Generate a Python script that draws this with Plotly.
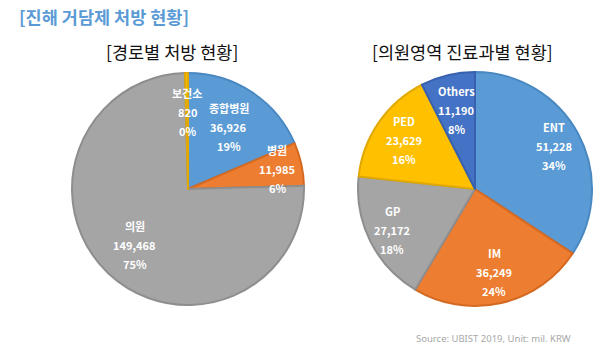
import math
import plotly.graph_objects as go

# ---- data ----
route_labels = ["종합병원", "병원", "의원", "보건소"]
route_values = [36926, 11985, 149468, 820]
route_pct = ["19%", "6%", "75%", "0%"]

dept_labels = ["ENT", "IM", "GP", "PED", "Others"]
dept_values = [51228, 36249, 27172, 23629, 11190]
dept_pct = ["34%", "24%", "18%", "16%", "8%"]

title_main = "[진해 거담제 처방 현황]"
title_left = "[경로별 처방 현황]"
title_right = "[의원영역 진료과별 현황]"
source_txt = "Source: UBIST 2019, Unit: mil. KRW"

# ---- style ----
W, H = 600, 354
BLUE, ORANGE, GRAY, YELLOW, DBLUE = "#5B9BD5", "#ED7D31", "#A5A5A5", "#FFC000", "#4472C4"
EDGE = {BLUE: "#4A88C2", ORANGE: "#D46A22", GRAY: "#8E8E8E", YELLOW: "#E0A800", DBLUE: "#3761AE"}
left_colors = [BLUE, ORANGE, GRAY, YELLOW]
right_colors = [BLUE, ORANGE, GRAY, YELLOW, DBLUE]
left_rfrac = [0.64, 0.79, 0.67, 0.66]
right_rfrac = [0.77, 0.73, 0.79, 0.74, 0.69]

left_center, left_R = (188, 189), 116
right_center, right_R = (475, 189), 117
LABEL_FONT = "Noto Sans CJK KR"


def domain(center, R):
    cx, cy = center
    return dict(x=[(cx - R) / W, (cx + R) / W], y=[1 - (cy + R) / H, 1 - (cy - R) / H])


fig = go.Figure()
for labels, values, colors, center, R in [
    (route_labels, route_values, left_colors, left_center, left_R),
    (dept_labels, dept_values, right_colors, right_center, right_R),
]:
    fig.add_trace(go.Pie(
        labels=labels, values=values, sort=False, direction="clockwise", rotation=0,
        marker=dict(colors=colors, line=dict(color=[EDGE[c] for c in colors], width=2)),
        textinfo="none", hoverinfo="label+value+percent",
        domain=domain(center, R), showlegend=False,
    ))

annotations = []


def add_labels(labels, values, pcts, rfrac, center, R):
    total = sum(values)
    cum = 0
    cx, cy = center
    for lab, v, p, rf in zip(labels, values, pcts, rfrac):
        mid = (cum + v / 2) / total * 2 * math.pi
        cum += v
        x = cx + rf * R * math.sin(mid)
        y = cy - rf * R * math.cos(mid)
        for i, t in enumerate([lab, f"{v:,}", p]):
            annotations.append(dict(
                x=x / W, y=1 - y / H, xref="paper", yref="paper",
                text=f"<b>{t}</b>", showarrow=False, yshift=19 * (1 - i),
                font=dict(family=LABEL_FONT, size=11, color="white"),
                xanchor="center", yanchor="middle",
            ))


add_labels(route_labels, route_values, route_pct, left_rfrac, left_center, left_R)
add_labels(dept_labels, dept_values, dept_pct, right_rfrac, right_center, right_R)

annotations += [
    dict(x=17 / W, y=1 - 16 / H, xref="paper", yref="paper", text=f"<b>{title_main}</b>",
         showarrow=False, xanchor="left", yanchor="middle",
         font=dict(family="Noto Sans CJK KR", size=17.5, color="#5B9BD5")),
    dict(x=172 / W, y=1 - 52 / H, xref="paper", yref="paper", text=title_left,
         showarrow=False, xanchor="center", yanchor="middle",
         font=dict(family="Noto Sans CJK KR", size=17.5, color="#111111")),
    dict(x=463 / W, y=1 - 52 / H, xref="paper", yref="paper", text=title_right,
         showarrow=False, xanchor="center", yanchor="middle",
         font=dict(family="Noto Sans CJK KR", size=17.5, color="#111111")),
    dict(x=573 / W, y=1 - 338 / H, xref="paper", yref="paper", text=source_txt,
         showarrow=False, xanchor="right", yanchor="middle",
         font=dict(family="Noto Sans", size=9.5, color="#A8A8A8")),
]

fig.update_layout(
    width=W, height=H, margin=dict(l=0, r=0, t=0, b=0),
    paper_bgcolor="white", plot_bgcolor="white", annotations=annotations,
)
fig.write_html("out.html")
